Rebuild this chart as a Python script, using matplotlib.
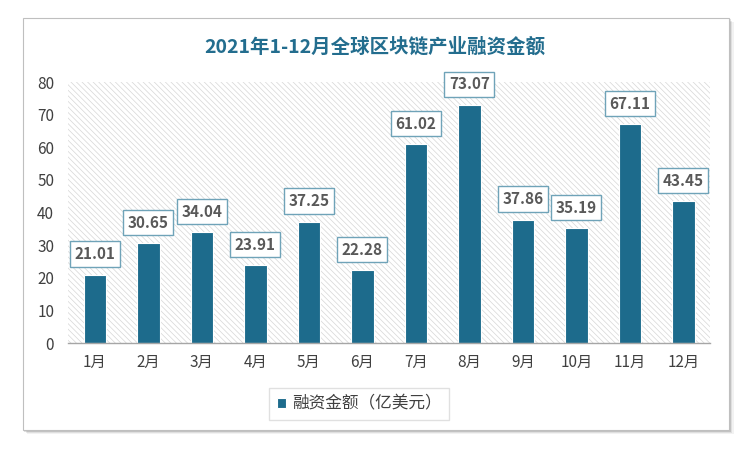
import matplotlib
matplotlib.use('Agg')
import matplotlib.pyplot as plt
from matplotlib.patches import Rectangle

plt.rcParams['font.family'] = ['Noto Sans CJK SC', 'DejaVu Sans']
plt.rcParams['hatch.linewidth'] = 0.5

months = ['1月', '2月', '3月', '4月', '5月', '6月', '7月', '8月', '9月', '10月', '11月', '12月']
amounts = [21.01, 30.65, 34.04, 23.91, 37.25, 22.28, 61.02, 73.07, 37.86, 35.19, 67.11, 43.45]
series_name = '融资金额（亿美元）'
title = '2021年1-12月全球区块链产业融资金额'

bar_color = '#1d6b8c'
title_color = '#236d8e'

fig = plt.figure(figsize=(7.5, 4.49), dpi=100)

# card frame with soft shadow
for i, a in enumerate([0.05, 0.08, 0.12]):
    off = (3 - i) * 0.002
    fig.patches.append(Rectangle((0.030 + off, 0.042 - off * 1.6), 0.942, 0.918,
                                 transform=fig.transFigure, facecolor='#000000',
                                 alpha=a, edgecolor='none', zorder=0))
fig.patches.append(Rectangle((0.030, 0.042), 0.942, 0.918, transform=fig.transFigure,
                             facecolor='white', edgecolor='#bfbfbf', linewidth=0.8, zorder=1))

ax = fig.add_axes([0.0907, 0.236, 0.856, 0.581])
ax.set_zorder(2)
ax.patch.set_alpha(0)

x = range(len(months))
ax.add_patch(Rectangle((-0.5, 0), 12, 80, facecolor='white', edgecolor='#d6d6d6',
                       hatch='\\\\\\\\\\\\', linewidth=0, zorder=0))
bars = ax.bar(x, amounts, width=0.42, color=bar_color, edgecolor='white',
              linewidth=0.8, zorder=2, label=series_name)

for xi, v in zip(x, amounts):
    ax.annotate(f'{v:.2f}', (xi, v), xytext=(0, 9), textcoords='offset points',
                ha='center', va='bottom', fontsize=11, fontweight='bold', color='#595959',
                bbox=dict(boxstyle='square,pad=0.3', facecolor='white',
                          edgecolor='#6fa3b8', linewidth=1.0), zorder=5)

ax.set_xlim(-0.5, 11.5)
ax.set_ylim(0, 80)
ax.set_yticks(range(0, 81, 10))
ax.set_xticks(list(x))
ax.set_xticklabels(months)
ax.tick_params(axis='both', length=0, labelsize=11, colors='#404040')
ax.tick_params(axis='x', pad=8)
ax.tick_params(axis='y', pad=10)
for s in ['top', 'right', 'left']:
    ax.spines[s].set_visible(False)
ax.spines['bottom'].set_color('#a6a6a6')
ax.spines['bottom'].set_linewidth(1.0)

fig.text(0.5, 0.895, title, ha='center', va='center', fontsize=14,
         fontweight='bold', color=title_color)

leg = fig.legend(handles=[bars], labels=[series_name], loc='center',
                 bbox_to_anchor=(0.479, 0.1), fontsize=12, frameon=True,
                 fancybox=False, edgecolor='#d9d9d9', handlelength=0.55,
                 handleheight=0.55, handletextpad=0.4, borderpad=0.45,
                 borderaxespad=0)
leg.get_frame().set_linewidth(1.0)
for t in leg.get_texts():
    t.set_color('#404040')

fig.savefig('out.png', dpi=100)
